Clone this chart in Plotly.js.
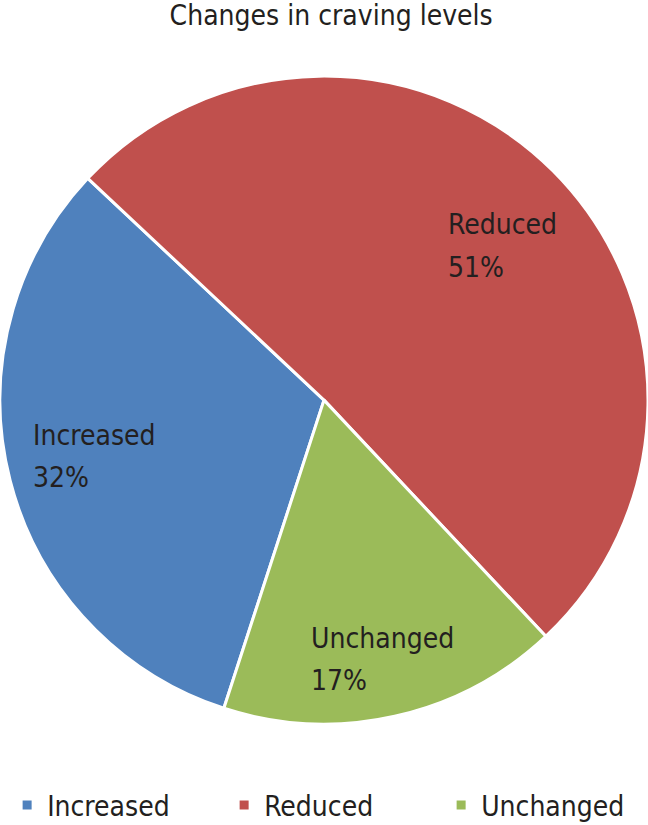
<!DOCTYPE html>
<html>
<head>
<meta charset="utf-8">
<script src="https://cdn.plot.ly/plotly-3.0.1.min.js"></script>
<style>
  html, body { margin: 0; padding: 0; background: #fff; }
  #chart { width: 648px; height: 825px; }
</style>
</head>
<body>
<div id="chart"></div>
<script>
"use strict";

const categories = ["Increased", "Reduced", "Unchanged"];
const shares = [32, 51, 17];
const sliceColors = ["#4F81BD", "#C0504D", "#9BBB59"];

// where each data label block starts (px, left edge / middle of first line)
const labelSpots = [[31, 436], [446, 225], [309, 638]];

const W = 648;
const H = 825;
const fontFamily = "'DejaVu Sans Condensed', 'DejaVu Sans', sans-serif";
const ink = "#231f20";

const annotations = [];
categories.forEach((name, i) => {
    const [px, py] = labelSpots[i];
    [name, `${shares[i]}%`].forEach((line, k) => {
        annotations.push({
            xref: "paper",
            yref: "paper",
            x: px / W,
            y: 1 - (py + k * 42) / H,
            xanchor: "left",
            yanchor: "middle",
            text: line,
            showarrow: false,
            align: "left",
            font: { family: fontFamily, size: 28, color: ink },
        });
    });
});

Plotly.newPlot(
    "chart",
    [{
        type: "pie",
        labels: categories,
        values: shares,
        sort: false,
        direction: "clockwise",
        rotation: 198,
        marker: {
            colors: sliceColors,
            line: { color: "#ffffff", width: 3 },
        },
        textinfo: "none",
        hoverinfo: "label+percent",
        domain: { x: [0, 1], y: [0.11, 0.92] },
    }],
    {
        width: W,
        height: H,
        title: {
            text: "Changes in craving levels",
            font: { family: fontFamily, size: 28, color: ink },
            x: 0.511,
            xanchor: "center",
            y: 0.982,
            yanchor: "middle",
        },
        showlegend: true,
        legend: {
            orientation: "h",
            xref: "container",
            yref: "container",
            x: 0.011,
            xanchor: "left",
            y: 0.024,
            yanchor: "middle",
            entrywidth: 172,
            font: { family: fontFamily, size: 28, color: ink },
            traceorder: "normal",
        },
        annotations: annotations,
        margin: { t: 0, r: 0, b: 0, l: 0, autoexpand: false },
        paper_bgcolor: "#ffffff",
    },
    { displayModeBar: false }
);
</script>
</body>
</html>
